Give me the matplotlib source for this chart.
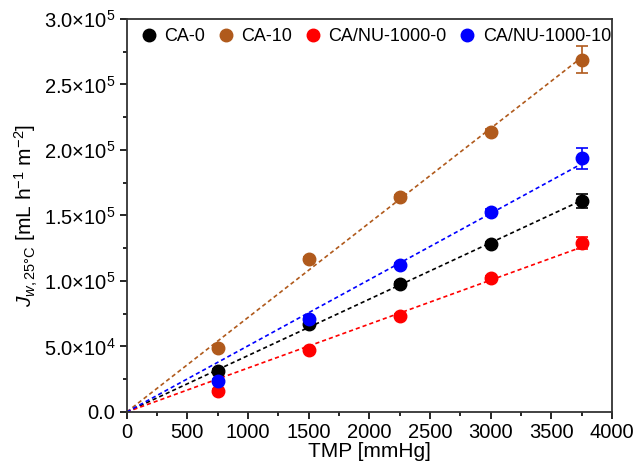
import numpy as np
import matplotlib.pyplot as plt
from matplotlib.ticker import MultipleLocator, FuncFormatter

plt.rcParams['font.family'] = ['Liberation Sans', 'DejaVu Sans']
plt.rcParams['mathtext.fontset'] = 'custom'
plt.rcParams['mathtext.rm'] = 'Liberation Sans'
plt.rcParams['mathtext.it'] = 'Liberation Sans:italic'

tmp = np.array([750, 1500, 2250, 3000, 3750])
names = ['CA-0', 'CA-10', 'CA/NU-1000-0', 'CA/NU-1000-10']
colors = ['#000000', '#b05a1c', '#ff0000', '#0000ff']
flux = [
    [31000, 67500, 97500, 128000, 161000],
    [48500, 117000, 164000, 214000, 269000],
    [16000, 47000, 73500, 102000, 129000],
    [24000, 71000, 112500, 153000, 193500],
]
err = [
    [1500, 2000, 1500, 1500, 5000],
    [1500, 1500, 1500, 2000, 10000],
    [1500, 1500, 1500, 1500, 4500],
    [1500, 2500, 1500, 2000, 8000],
]

fig, ax = plt.subplots(figsize=(6.4, 4.73), dpi=100)
fig.subplots_adjust(left=0.198, right=0.956, top=0.96, bottom=0.129)

xl = np.array([0, 3750])
for n, c, y, e in zip(names, colors, flux, err):
    y = np.array(y)
    k = np.sum(tmp * y) / np.sum(tmp * tmp)
    ax.plot(xl, k * xl, '--', color=c, lw=1.2, dashes=(2.5, 1.8))
    ax.errorbar(tmp, y, yerr=e, fmt='o', color=c, ms=9, capsize=4,
                elinewidth=1.2, capthick=1.2, label=n, zorder=3)

ax.set_xlim(0, 4000)
ax.set_ylim(0, 300000)
ax.xaxis.set_major_locator(MultipleLocator(500))
ax.xaxis.set_minor_locator(MultipleLocator(250))
ax.yaxis.set_major_locator(MultipleLocator(50000))
ax.yaxis.set_minor_locator(MultipleLocator(25000))


def fmt(v, pos):
    if v <= 0:
        return '0.0'
    p = int(np.floor(np.log10(v)))
    return r'%.1f$\times$10$^{%d}$' % (v / 10 ** p, p)


ax.yaxis.set_major_formatter(FuncFormatter(fmt))
ax.tick_params(which='both', direction='out', labelsize=14.5, width=1.2)
ax.tick_params(which='major', length=5, pad=3)
ax.tick_params(which='minor', length=3)
for s in ax.spines.values():
    s.set_linewidth(1.3)
    s.set_color('#333333')

ax.set_xlabel('TMP [mmHg]', fontsize=15, labelpad=0)
ax.set_ylabel(r'$J_{w,\mathrm{25°C}}$ [mL h$^{-1}$ m$^{-2}$]', fontsize=15, labelpad=3)

handles, labels = ax.get_legend_handles_labels()
handles = [h[0] for h in handles]
ax.legend(handles, labels, loc='upper center', ncol=4, frameon=False,
          fontsize=13, handletextpad=0.2, columnspacing=0.5,
          borderaxespad=0.1, handlelength=1.3, bbox_to_anchor=(0.51, 1.0))

fig.savefig('out.png', dpi=100)
